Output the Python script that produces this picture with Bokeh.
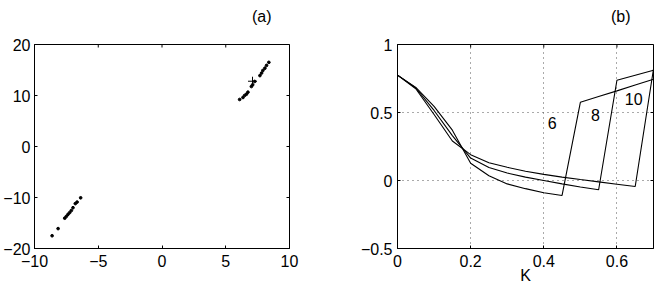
import math
from bokeh.plotting import figure
from bokeh.layouts import row
from bokeh.models import Range1d, FixedTicker, Label
from bokeh.embed import file_html
from bokeh.resources import INLINE

FONT = "Liberation Sans"
FS = "16px"

# ---- panel (a) data ----
upper_x = [6.09, 6.35, 6.48, 6.62, 6.74, 7.01, 7.11, 7.27, 7.68, 7.81, 7.91, 8.07, 8.20, 8.38]
upper_y = [9.22, 9.61, 10.0, 10.25, 10.65, 11.76, 12.1, 12.75, 13.9, 14.4, 14.9, 15.35, 15.9, 16.5]
lower_x = [-8.62, -8.15, -7.63, -7.5, -7.37, -7.24, -7.11, -6.98, -6.8, -6.66, -6.38]
lower_y = [-17.5, -16.1, -14.06, -13.7, -13.3, -12.96, -12.55, -12.0, -11.2, -10.9, -10.06]
plus_x = [7.1]
plus_y = [12.8]
a_xrange = (-10, 10)
a_yrange = (-20, 20)
a_xticks = [-10, -5, 0, 5, 10]
a_xlabels = ["−10", "−5", "0", "5", "10"]
a_yticks = [-20, -10, 0, 10, 20]
a_ylabels = ["−20", "−10", "0", "10", "20"]

# ---- panel (b) data ----
K = [0, 0.05, 0.1, 0.15, 0.2, 0.25, 0.3, 0.35, 0.4, 0.45, 0.5, 0.55, 0.6, 0.65, 0.7]
curve6 = [0.775, 0.685, 0.545, 0.37, 0.127, 0.035, -0.025, -0.06, -0.09, -0.11,
          0.575, 0.617, 0.659, 0.702, 0.745]
curve8 = [0.775, 0.68, 0.515, 0.33, 0.165, 0.095, 0.055, 0.025, 0.0, -0.025,
          -0.048, -0.068, 0.737, 0.774, 0.81]
curve10 = [0.775, 0.675, 0.485, 0.29, 0.19, 0.13, 0.097, 0.068, 0.045, 0.025,
           0.007, -0.01, -0.027, -0.044, 0.82]
curve_names = ["6", "8", "10"]
label_x = [0.423, 0.541, 0.646]
label_y = [0.42, 0.48, 0.60]
b_xrange = (0, 0.7)
b_yrange = (-0.5, 1)
b_xticks = [0, 0.2, 0.4, 0.6]
b_xlabels = ["0", "0.2", "0.4", "0.6"]
b_yticks = [-0.5, 0, 0.5, 1]
b_ylabels = ["−0.5", "0", "0.5", "1"]


def style_axes(p, xr, yr, xt, xl, yt, yl, ystand, title, title_offset):
    p.xaxis.ticker = FixedTicker(ticks=xt)
    p.yaxis.ticker = FixedTicker(ticks=yt)
    p.xaxis.major_label_overrides = {t: l for t, l in zip(xt, xl)}
    p.yaxis.major_label_overrides = {t: l for t, l in zip(yt, yl)}
    for ax in (p.xaxis[0], p.yaxis[0]):
        ax.major_tick_in = 3
        ax.major_tick_out = 0
        ax.minor_tick_line_color = None
        ax.axis_line_color = "black"
        ax.major_tick_line_color = "black"
        ax.major_label_text_font = FONT
        ax.major_label_text_font_size = FS
        ax.major_label_text_color = "black"
    p.xaxis.major_label_standoff = 6
    p.yaxis.major_label_standoff = ystand
    # mirrored inward ticks on top and right edges (clipped to frame)
    p.scatter(xt, [yr[1]] * len(xt), marker="dash", angle=math.pi / 2, size=6,
              line_color="black", line_width=1)
    p.scatter([xr[1]] * len(yt), yt, marker="dash", size=6,
              line_color="black", line_width=1)
    p.outline_line_color = "black"
    p.outline_line_width = 1
    p.background_fill_color = "white"
    p.border_fill_color = "white"
    p.title.text = title
    p.title.align = "right"
    p.title.vertical_align = "top"
    p.title.offset = title_offset
    p.title.standoff = 0
    p.title.padding = dict(top=0, right=0, bottom=18, left=0)
    p.title.text_font = FONT
    p.title.text_font_size = FS
    p.title.text_font_style = "normal"
    p.title.text_color = "black"


# ---- figure (a) ----
pa = figure(width=300, height=292, output_backend="svg", toolbar_location=None,
            x_range=Range1d(*a_xrange), y_range=Range1d(*a_yrange),
            min_border_left=34, min_border_right=11, min_border_top=44, min_border_bottom=44)
pa.xgrid.visible = False
pa.ygrid.visible = False
pa.scatter(upper_x, upper_y, size=2.7, color="black")
pa.scatter(lower_x, lower_y, size=2.7, color="black")
pa.scatter(plus_x, plus_y, marker="cross", size=9, line_color="black", line_width=1)
style_axes(pa, a_xrange, a_yrange, a_xticks, a_xlabels, a_yticks, a_ylabels, 4, "(a)", 18)

# ---- figure (b) ----
pb = figure(width=359, height=292, output_backend="svg", toolbar_location=None,
            x_range=Range1d(*b_xrange), y_range=Range1d(*b_yrange),
            min_border_left=97, min_border_right=6, min_border_top=44, min_border_bottom=44)
for g in (pb.xgrid[0], pb.ygrid[0]):
    g.grid_line_color = "#555555"
    g.grid_line_dash = "1 4"
    g.grid_line_width = 1
for c in (curve6, curve8, curve10):
    pb.line(K, c, line_color="black", line_width=1.1)
for name, lx, ly in zip(curve_names, label_x, label_y):
    pb.add_layout(Label(x=lx, y=ly, text=name, text_align="center", text_baseline="middle",
                        text_font=FONT, text_font_size=FS, text_color="black"))
style_axes(pb, b_xrange, b_yrange, b_xticks, b_xlabels, b_yticks, b_ylabels, 5, "(b)", 23)
pb.xaxis.axis_label = "K"
pb.xaxis.axis_label_text_font = FONT
pb.xaxis.axis_label_text_font_size = FS
pb.xaxis.axis_label_text_font_style = "normal"
pb.xaxis.axis_label_text_color = "black"
pb.xaxis.axis_label_standoff = -3

layout = row(pa, pb)
open("out.html", "w").write(file_html(layout, INLINE))
